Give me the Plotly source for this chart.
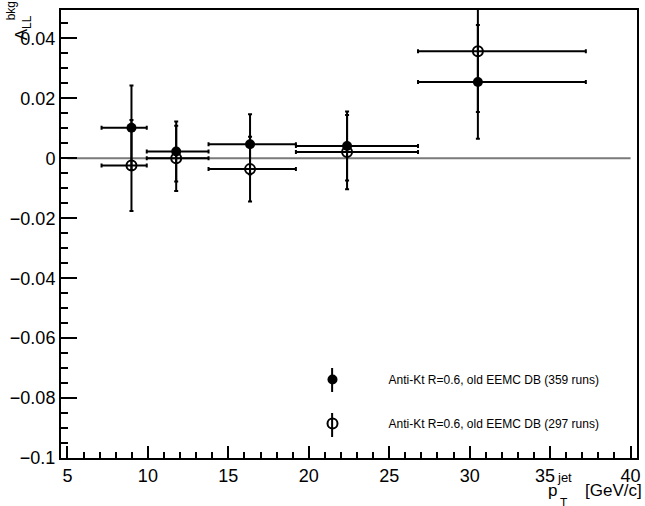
import plotly.graph_objects as go

# ---------------- data ----------------
pt_center = [8.98, 11.76, 16.35, 22.38, 30.51]
pt_low_edge = [7.12, 9.93, 13.77, 19.20, 26.79]
pt_high_edge = [9.93, 13.77, 19.20, 26.79, 37.22]

all_runs_y = [0.0102, 0.0023, 0.0047, 0.0041, 0.0255]
all_runs_err = [0.0141, 0.0100, 0.0100, 0.0115, 0.0190]

sub_runs_y = [-0.0024, 0.0000, -0.0036, 0.0021, 0.0357]
sub_runs_err = [0.0152, 0.0109, 0.0108, 0.0124, 0.0202]

label_all = "Anti-Kt R=0.6, old EEMC DB (359 runs)"
label_sub = "Anti-Kt R=0.6, old EEMC DB (297 runs)"

x_ticks = [5, 10, 15, 20, 25, 30, 35, 40]
x_ticktext = ["5", "10", "15", "20", "25", "30", "35\u00a0\u00a0", "40"]
y_ticks = [-0.1, -0.08, -0.06, -0.04, -0.02, 0, 0.02, 0.04]
y_ticktext = ["\u22120.1", "\u22120.08", "\u22120.06", "\u22120.04", "\u22120.02", "0", "0.02", "0.04"]
zero_line_x = [5, 40]

x_range = [4.6, 40.4]
y_range = [-0.1, 0.0495]

# ---------------- figure ----------------
W, H = 645, 506
ML, MR, MT, MB = 61, 4, 10, 48
PW, PH = W - ML - MR, H - MT - MB

err_plus_x = [h - c for h, c in zip(pt_high_edge, pt_center)]
err_minus_x = [c - l for c, l in zip(pt_center, pt_low_edge)]

FONT = "Liberation Sans, Arial, Helvetica, sans-serif"

fig = go.Figure()

common_err_x = dict(type="data", symmetric=False, array=err_plus_x, arrayminus=err_minus_x,
                    color="black", thickness=2, width=2)

fig.add_trace(go.Scatter(
    x=pt_center, y=all_runs_y, mode="markers", name=label_all,
    marker=dict(symbol="circle", size=10, color="black"),
    error_y=dict(type="data", array=all_runs_err, color="black", thickness=2, width=2),
    error_x=common_err_x,
    legendgroup="a",
))
fig.add_trace(go.Scatter(
    x=pt_center, y=sub_runs_y, mode="markers", name=label_sub,
    marker=dict(symbol="circle-open", size=10, color="black", line=dict(width=2, color="black")),
    error_y=dict(type="data", array=sub_runs_err, color="black", thickness=2, width=2),
    error_x=common_err_x,
    legendgroup="b",
))

# zero reference line
fig.add_shape(type="line", xref="x", yref="y", x0=zero_line_x[0], x1=zero_line_x[1], y0=0, y1=0,
              line=dict(color="#7a7a7a", width=2), layer="below")

def px2paper_x(px):
    return (px - ML) / PW

def px2paper_y(py):
    return (H - MB - py) / PH

# vertical bars through legend symbols
for yc in (380, 425):
    fig.add_shape(type="line", xref="paper", yref="paper",
                  x0=px2paper_x(334), x1=px2paper_x(334),
                  y0=px2paper_y(yc + 12), y1=px2paper_y(yc - 12),
                  line=dict(color="black", width=2))

axis_common = dict(
    showgrid=False, zeroline=False, showline=True, linecolor="black", linewidth=2,
    mirror=True, ticks="inside", tickcolor="black", tickwidth=2,
    tickfont=dict(family=FONT, size=18, color="black"),
)

fig.update_xaxes(range=x_range, tickvals=x_ticks, ticktext=x_ticktext, ticklen=12,
                 minor=dict(dtick=1, tick0=5, ticks="inside", ticklen=6, tickwidth=2, tickcolor="black"),
                 **axis_common)
fig.update_yaxes(range=y_range, tickvals=y_ticks, ticktext=y_ticktext, ticklen=16,
                 minor=dict(dtick=0.005, tick0=0, ticks="inside", ticklen=7, tickwidth=2, tickcolor="black"),
                 **axis_common)

# x axis title
fig.add_annotation(xref="paper", yref="paper", x=1.0, y=0, xanchor="right", yanchor="top",
                   xshift=7, yshift=-21, text="[GeV/c]", showarrow=False,
                   font=dict(family=FONT, size=17, color="black"))
fig.add_annotation(xref="paper", yref="paper", x=px2paper_x(562), y=0, xanchor="right", yanchor="top",
                   yshift=-21, text="p", showarrow=False,
                   font=dict(family=FONT, size=17, color="black"))
fig.add_annotation(xref="paper", yref="paper", x=px2paper_x(558), y=0, xanchor="left", yanchor="top",
                   yshift=-10, text="jet", showarrow=False,
                   font=dict(family=FONT, size=13, color="black"))
fig.add_annotation(xref="paper", yref="paper", x=px2paper_x(561), y=0, xanchor="left", yanchor="top",
                   yshift=-36, text="T", showarrow=False,
                   font=dict(family=FONT, size=12, color="black"))

# y axis title
fig.add_annotation(xref="paper", yref="paper", x=px2paper_x(23), y=px2paper_y(28), xanchor="center",
                   yanchor="middle", textangle=-90, text="A<sub>LL</sub>", showarrow=False,
                   font=dict(family=FONT, size=17, color="black"))
fig.add_annotation(xref="paper", yref="paper", x=px2paper_x(11), y=px2paper_y(11), xanchor="center",
                   yanchor="middle", textangle=-90, text="bkg", showarrow=False,
                   font=dict(family=FONT, size=12, color="black"))

fig.update_layout(
    width=W, height=H,
    margin=dict(l=ML, r=MR, t=MT, b=MB),
    paper_bgcolor="white", plot_bgcolor="white",
    font=dict(family=FONT, color="black"),
    showlegend=True,
    legend=dict(x=px2paper_x(278), y=px2paper_y(365), xanchor="left", yanchor="top",
                bgcolor="rgba(0,0,0,0)", borderwidth=0,
                font=dict(family=FONT, size=12, color="black"),
                traceorder="grouped", tracegroupgap=25, itemwidth=102),
)

fig.write_html("out.html")
